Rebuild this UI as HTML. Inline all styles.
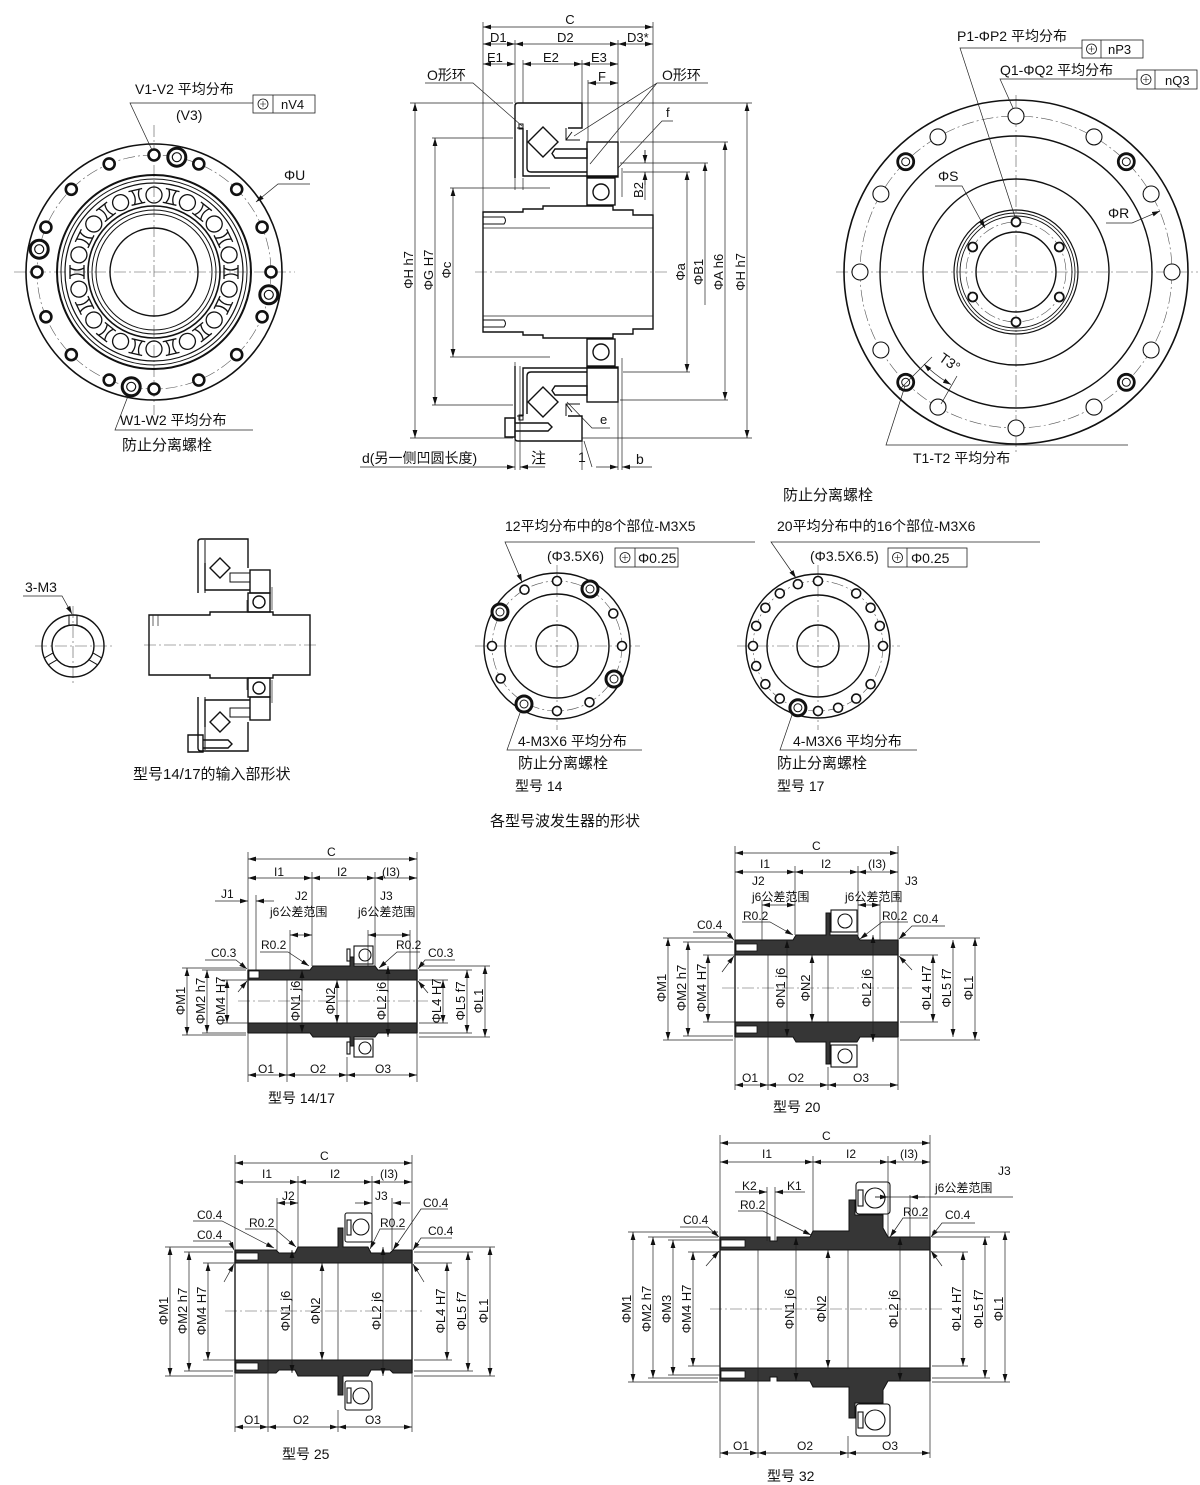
<!DOCTYPE html>
<html><head><meta charset="utf-8">
<style>
html,body{margin:0;padding:0;background:#fff}
svg{display:block}
.k{fill:none;stroke:#111;stroke-width:1.4}
.n{fill:none;stroke:#222;stroke-width:.7}
.cl{fill:none;stroke:#555;stroke-width:.6;stroke-dasharray:12 3 2 3}
.b{fill:#363636;stroke:#111;stroke-width:1}
.w{fill:#fff;stroke:#111;stroke-width:.8}
.d{marker-start:url(#ar);marker-end:url(#ar)}
.e{marker-end:url(#ar)}
.sa{marker-start:url(#ar)}
text{font-family:"Liberation Sans Narrow","Liberation Sans","Noto Sans CJK SC",sans-serif;fill:#111;font-size:13px}
.s12{font-size:12px}.s15{font-size:15px}.s14{font-size:14px}
</style></head><body>
<svg width="1200" height="1485" viewBox="0 0 1200 1485" xmlns="http://www.w3.org/2000/svg">
<defs>
<marker id="ar" viewBox="0 0 8 6" refX="8" refY="3" markerWidth="8" markerHeight="6" markerUnits="userSpaceOnUse" orient="auto-start-reverse"><path d="M0,0.6 L8,3 L0,5.4z" fill="#111"/></marker>
<circle id="rc" cx="154" cy="195" r="8"/>
<path id="ri" d="M147,188 H161 M147,202 H161 M150,188 Q154,195 150,202 M158,188 Q154,195 158,202"/>
<g id="pos"><circle cx="0" cy="0" r="5" fill="none" stroke="#111" stroke-width=".8"/><path d="M-3,0H3M0,-3V3" stroke="#111" stroke-width=".6"/></g>
</defs>

<!-- ================= TOP LEFT FRONT VIEW ================= -->
<line class="cl" x1="14" y1="272" x2="295" y2="272"/>
<line class="cl" x1="154" y1="125" x2="154" y2="415"/>
<circle class="k" cx="154" cy="272" r="128" style="stroke-width:1.6"/>
<circle class="cl" cx="154" cy="272" r="117"/>
<circle class="k" cx="154" cy="272" r="97" style="stroke-width:2"/>
<circle class="k" cx="154" cy="272" r="93" style="stroke-width:1"/>
<circle class="k" cx="154" cy="272" r="89" style="stroke-width:1.2"/>
<circle class="k" cx="154" cy="272" r="66" style="stroke-width:1.6"/>
<circle class="k" cx="154" cy="272" r="62" style="stroke-width:1"/>
<circle class="k" cx="154" cy="272" r="58" style="stroke-width:1"/>
<circle class="k" cx="154" cy="272" r="44"/>
<g fill="none" stroke="#111" stroke-width="1.3">
<use href="#rc"/><use href="#rc" transform="rotate(25.714 154 272)"/><use href="#rc" transform="rotate(51.429 154 272)"/><use href="#rc" transform="rotate(77.143 154 272)"/><use href="#rc" transform="rotate(102.857 154 272)"/><use href="#rc" transform="rotate(128.571 154 272)"/><use href="#rc" transform="rotate(154.286 154 272)"/><use href="#rc" transform="rotate(180 154 272)"/><use href="#rc" transform="rotate(205.714 154 272)"/><use href="#rc" transform="rotate(231.429 154 272)"/><use href="#rc" transform="rotate(257.143 154 272)"/><use href="#rc" transform="rotate(282.857 154 272)"/><use href="#rc" transform="rotate(308.571 154 272)"/><use href="#rc" transform="rotate(334.286 154 272)"/>
<use href="#ri" transform="rotate(12.857 154 272)"/><use href="#ri" transform="rotate(38.571 154 272)"/><use href="#ri" transform="rotate(64.286 154 272)"/><use href="#ri" transform="rotate(90 154 272)"/><use href="#ri" transform="rotate(115.714 154 272)"/><use href="#ri" transform="rotate(141.429 154 272)"/><use href="#ri" transform="rotate(167.143 154 272)"/><use href="#ri" transform="rotate(192.857 154 272)"/><use href="#ri" transform="rotate(218.571 154 272)"/><use href="#ri" transform="rotate(244.286 154 272)"/><use href="#ri" transform="rotate(270 154 272)"/><use href="#ri" transform="rotate(295.714 154 272)"/><use href="#ri" transform="rotate(321.429 154 272)"/><use href="#ri" transform="rotate(347.143 154 272)"/>
</g>
<g fill="#fff" stroke="#111" stroke-width="2.6">
<circle cx="271" cy="272" r="5.5"/><circle cx="262.1" cy="227.2" r="5.5"/><circle cx="236.7" cy="189.3" r="5.5"/><circle cx="198.8" cy="163.9" r="5.5"/><circle cx="154" cy="155" r="5.5"/><circle cx="109.2" cy="163.9" r="5.5"/><circle cx="71.3" cy="189.3" r="5.5"/><circle cx="45.9" cy="227.2" r="5.5"/><circle cx="37" cy="272" r="5.5"/><circle cx="45.9" cy="316.8" r="5.5"/><circle cx="71.3" cy="354.7" r="5.5"/><circle cx="109.2" cy="380.1" r="5.5"/><circle cx="154" cy="389" r="5.5"/><circle cx="198.8" cy="380.1" r="5.5"/><circle cx="236.7" cy="354.7" r="5.5"/><circle cx="262.1" cy="316.8" r="5.5"/>
</g>
<g fill="#fff" stroke="#111">
<circle cx="176.8" cy="157.2" r="9" stroke-width="3"/><circle cx="176.8" cy="157.2" r="4.5" stroke-width="1.2"/>
<circle cx="39.2" cy="249.2" r="9" stroke-width="3"/><circle cx="39.2" cy="249.2" r="4.5" stroke-width="1.2"/>
<circle cx="131.2" cy="386.8" r="9" stroke-width="3"/><circle cx="131.2" cy="386.8" r="4.5" stroke-width="1.2"/>
<circle cx="268.8" cy="294.8" r="9" stroke-width="3"/><circle cx="268.8" cy="294.8" r="4.5" stroke-width="1.2"/>
</g>
<text x="135" y="94" class="s14">V1-V2 平均分布</text>
<text x="176" y="120" class="s14">(V3)</text>
<path class="n" d="M253,103 H130 L152,150"/>
<rect x="253" y="95" width="62" height="18" fill="none" stroke="#222" stroke-width=".8"/>
<line x1="273" y1="95" x2="273" y2="113" stroke="#222" stroke-width=".8"/>
<use href="#pos" x="263" y="104"/>
<text x="281" y="109">nV4</text>
<text x="284" y="180" class="s14">ΦU</text>
<path class="n e" d="M310,184 H278 L256,202"/>
<text x="120" y="425" class="s14">W1-W2 平均分布</text>
<path class="n" d="M253,430 H115 L128,396"/>
<text x="122" y="450" class="s15">防止分离螺栓</text>

<!-- ================= TOP MIDDLE SECTION ================= -->
<line class="cl" x1="475" y1="272" x2="668" y2="272"/>
<!-- shaft -->
<path class="k" d="M483,212 H523 V209 H543 V206 H613 V210 H633 V215 H653 V329 H633 V334 H613 V338 H543 V335 H523 V332 H483 Z"/>
<line class="n" x1="483" y1="228" x2="653" y2="228"/>
<line class="n" x1="483" y1="316" x2="653" y2="316"/>
<path class="k" style="stroke-width:1" d="M483,217 H504 Q507,220.5 504,224 H483 M483,320 H504 Q507,323.5 504,327 H483"/>
<!-- upper housing -->
<g id="hsg">
<path class="k" d="M515,178 V106 Q515,103 518,103 H582 V128 H568"/>
<path class="k" d="M523,128 V176 H618"/>
<path class="k" d="M527,130 V168 Q527,172 531,172 H587"/>
<path class="k" d="M543,127 L558,142 L543,157 L528,142Z"/>
<rect class="k" x="587" y="142" width="31" height="35"/>
<path class="k" d="M555,149 H587 V158 H555 L552,153.5 Z"/>
<rect class="k" x="587" y="178" width="28" height="27"/>
<circle class="k" cx="601" cy="192" r="8"/>
<path class="k" style="stroke-width:1" d="M566,128 V140 H580 M566,140 L572,132"/>
<path class="k" style="stroke-width:1" d="M517,128 H523 M519,124 h4 v5 h-4z"/>
</g>
<use href="#hsg" transform="matrix(1 0 0 -1 0 544)"/>
<path class="k" d="M505,418 H515 V437 H505 Z M515,423 H548 L552,427 L548,431 H515"/>
<!-- extension lines -->
<path class="n" d="M483,22 V212 M653,22 V215 M515,40 V103 M515,178 V190 M515,362 V470 M523,60 V103 M523,178 V190 M520,366 V470 M582,60 V103 M588,80 V142 M618,40 V142 M618,400 V470 M622,168 V197 M622,358 V470 M582,440 V470
M410,103 H513 M432,138 H513 M450,188 H550 M450,357 H550 M432,405 H513 M410,438 H513
M582,103 H752 M620,142 H728 M620,163 H708 M623,172 H690 M623,372 H690 M620,400 H728 M582,438 H752"/>
<!-- dims -->
<g class="n d">
<line x1="483" y1="27" x2="653" y2="27"/>
<line x1="483" y1="44" x2="515" y2="44"/><line x1="515" y1="44" x2="618" y2="44"/><line x1="618" y1="44" x2="653" y2="44"/>
<line x1="483" y1="64" x2="515" y2="64"/><line x1="523" y1="64" x2="582" y2="64"/><line x1="582" y1="64" x2="618" y2="64"/>
<line x1="588" y1="83" x2="618" y2="83"/>
<line x1="415" y1="103" x2="415" y2="438"/><line x1="435" y1="138" x2="435" y2="405"/><line x1="453" y1="188" x2="453" y2="357"/>
<line x1="687" y1="172" x2="687" y2="372"/><line x1="725" y1="142" x2="725" y2="400"/><line x1="747" y1="103" x2="747" y2="438"/>
</g>
<line class="n sa" x1="705" y1="163" x2="705" y2="305"/>
<path class="n" d="M645,150 V163 M645,172 V200"/>
<line class="n e" x1="645" y1="150" x2="645" y2="163"/><line class="n e" x1="645" y1="185" x2="645" y2="172"/>
<text x="570" y="24" text-anchor="middle">C</text>
<text x="490" y="42">D1</text><text x="557" y="42">D2</text><text x="627" y="42">D3*</text>
<text x="487" y="62">E1</text><text x="543" y="62">E2</text><text x="591" y="62">E3</text>
<text x="598" y="81">F</text>
<text x="427" y="80" class="s14">O形环</text>
<path class="n" d="M425,83 H473 L522,126"/>
<text x="662" y="80" class="s14">O形环</text>
<path class="n" d="M708,83 H657 L590,164 M657,83 L574,136"/>
<text x="666" y="117">f</text>
<path class="n" d="M673,121 H662 L618,168"/>
<text x="600" y="424">e</text>
<path class="n" d="M610,428 H592 L567,402"/>
<text transform="translate(413,270) rotate(-90)" text-anchor="middle">ΦH h7</text>
<text transform="translate(433,270) rotate(-90)" text-anchor="middle">ΦG H7</text>
<text transform="translate(451,270) rotate(-90)" text-anchor="middle">Φc</text>
<text transform="translate(685,272) rotate(-90)" text-anchor="middle">Φa</text>
<text transform="translate(703,272) rotate(-90)" text-anchor="middle">ΦB1</text>
<text transform="translate(723,272) rotate(-90)" text-anchor="middle">ΦA h6</text>
<text transform="translate(745,272) rotate(-90)" text-anchor="middle">ΦH h7</text>
<text transform="translate(643,190) rotate(-90)" text-anchor="middle">B2</text>
<text x="362" y="463" class="s14">d(另一侧凹圆长度)</text>
<line class="n e" x1="360" y1="467" x2="515" y2="467"/>
<line class="n e" x1="545" y1="467" x2="520" y2="467"/>
<text x="531" y="463" class="s15">注</text>
<text x="578" y="462" class="s14">1</text>
<path class="n" d="M592,467 L584,441"/>
<line class="n e" x1="596" y1="467" x2="618" y2="467"/>
<line class="n e" x1="652" y1="467" x2="622" y2="467"/>
<text x="636" y="464" class="s14">b</text>

<!-- ================= TOP RIGHT FRONT VIEW ================= -->
<line class="cl" x1="836" y1="272" x2="1198" y2="272"/>
<line class="cl" x1="1016" y1="95" x2="1016" y2="455"/>
<circle class="k" cx="1016" cy="272" r="172" style="stroke-width:1.6"/>
<circle class="cl" cx="1016" cy="272" r="156"/>
<circle class="k" cx="1016" cy="272" r="136"/>
<circle class="k" cx="1016" cy="272" r="93"/>
<circle class="k" cx="1016" cy="272" r="62" style="stroke-width:1.2"/>
<circle class="k" cx="1016" cy="272" r="59" style="stroke-width:.9"/>
<circle class="k" cx="1016" cy="272" r="56" style="stroke-width:.9"/>
<circle class="cl" cx="1016" cy="272" r="50"/>
<circle class="k" cx="1016" cy="272" r="40"/>
<g fill="#fff" stroke="#111" stroke-width="1.8">
<circle cx="1016" cy="222" r="4.5"/><circle cx="1059.3" cy="247" r="4.5"/><circle cx="1059.3" cy="297" r="4.5"/><circle cx="1016" cy="322" r="4.5"/><circle cx="972.7" cy="297" r="4.5"/><circle cx="972.7" cy="247" r="4.5"/>
</g>
<g fill="#fff" stroke="#111" stroke-width="1.1">
<circle cx="1172" cy="272" r="8"/><circle cx="1151.1" cy="194" r="8"/><circle cx="1094" cy="136.9" r="8"/><circle cx="1016" cy="116" r="8"/><circle cx="938" cy="136.9" r="8"/><circle cx="880.9" cy="194" r="8"/><circle cx="860" cy="272" r="8"/><circle cx="880.9" cy="350" r="8"/><circle cx="938" cy="407.1" r="8"/><circle cx="1016" cy="428" r="8"/><circle cx="1094" cy="407.1" r="8"/><circle cx="1151.1" cy="350" r="8"/>
</g>
<g fill="#fff" stroke="#111">
<circle cx="1126.3" cy="161.7" r="8" stroke-width="2.8"/><circle cx="1126.3" cy="161.7" r="4" stroke-width="1"/>
<circle cx="905.7" cy="161.7" r="8" stroke-width="2.8"/><circle cx="905.7" cy="161.7" r="4" stroke-width="1"/>
<circle cx="905.7" cy="382.3" r="8" stroke-width="2.8"/><circle cx="905.7" cy="382.3" r="4" stroke-width="1"/>
<circle cx="1126.3" cy="382.3" r="8" stroke-width="2.8"/><circle cx="1126.3" cy="382.3" r="4" stroke-width="1"/>
</g>
<text x="957" y="41" class="s14">P1-ΦP2 平均分布</text>
<path class="n" d="M1082,48 H960 L1015,217"/>
<rect x="1082" y="40" width="61" height="18" fill="none" stroke="#222" stroke-width=".8"/>
<line x1="1101" y1="40" x2="1101" y2="58" stroke="#222" stroke-width=".8"/>
<use href="#pos" x="1091.5" y="49"/>
<text x="1108" y="54">nP3</text>
<text x="1000" y="75" class="s14">Q1-ΦQ2 平均分布</text>
<path class="n" d="M1137,79 H1000 L1013,108"/>
<rect x="1137" y="70" width="60" height="19" fill="none" stroke="#222" stroke-width=".8"/>
<line x1="1155" y1="70" x2="1155" y2="89" stroke="#222" stroke-width=".8"/>
<use href="#pos" x="1146" y="79.5"/>
<text x="1165" y="85">nQ3</text>
<text x="938" y="181" class="s14">ΦS</text>
<path class="n e" d="M935,186 H962 L985,228"/>
<text x="1108" y="218" class="s14">ΦR</text>
<path class="n e" d="M1106,223 H1132 L1160,211"/>
<path class="n" d="M932,357 L899,390 M957,376 L941,404"/>
<path class="n d" d="M924,364 A130,130 0 0 0 951,384.6"/>
<text transform="translate(938,360) rotate(35)" class="s14">T3°</text>
<text x="913" y="463" class="s14">T1-T2 平均分布</text>
<path class="n" d="M1128,445 H886 L905,386"/>

<!-- ================= MIDDLE LEFT ================= -->
<line class="cl" x1="35" y1="646" x2="112" y2="646"/>
<line class="cl" x1="73" y1="606" x2="73" y2="684"/>
<circle class="k" cx="73" cy="646" r="31"/>
<circle class="k" cx="73" cy="646" r="21"/>
<g class="k" style="stroke-width:1">
<path d="M69,615 V625 M77,615 V625"/>
<path d="M69,615 V625 M77,615 V625" transform="rotate(120 73 646)"/>
<path d="M69,615 V625 M77,615 V625" transform="rotate(240 73 646)"/>
</g>
<text x="25" y="592" class="s14">3-M3</text>
<path class="n e" d="M23,596 H62 L72,614"/>
<line class="cl" x1="144" y1="645" x2="316" y2="645"/>
<path class="k" d="M149,615 H210 V612 H273 V615 H310 V675 H273 V678 H210 V675 H149 Z"/>
<path class="n" d="M153,615 V626 M158,615 V626 M247,600 V612 M247,678 V690"/>
<g id="ia">
<path class="k" d="M198,593 V542 Q198,539 201,539 H248 V568"/>
<path class="k" style="stroke-width:1" d="M205,540 V593"/>
<path class="k" d="M205,563 V590 H250"/>
<path class="k" d="M220,558 L230,568 L220,578 L210,568Z"/>
<rect class="k" x="250" y="570" width="20" height="23"/>
<rect class="k" style="stroke-width:1" x="230" y="573" width="20" height="9"/>
<rect class="k" x="248" y="593" width="22" height="19"/>
<circle class="k" cx="259" cy="602" r="6"/>
<path class="n" d="M272,587 V610"/>
</g>
<use href="#ia" transform="matrix(1 0 0 -1 0 1290)"/>
<path class="k" d="M188,735 H203 V752 H188 Z M203,740 H228 L232,744 L228,748 H203"/>
<text x="133" y="779" class="s15">型号14/17的输入部形状</text>

<!-- ================= MIDDLE CIRCLES ================= -->
<text x="783" y="500" class="s15">防止分离螺栓</text>
<text x="505" y="531" class="s14">12平均分布中的8个部位-M3X5</text>
<path class="n e" d="M755,542 H505 L522,582"/>
<text x="547" y="561" class="s14">(Φ3.5X6)</text>
<rect x="615" y="548" width="63" height="19" fill="none" stroke="#222" stroke-width=".8"/>
<line x1="635" y1="548" x2="635" y2="567" stroke="#222" stroke-width=".8"/>
<use href="#pos" x="625" y="557.5"/>
<text x="638" y="563" class="s14">Φ0.25</text>
<line class="cl" x1="475" y1="646" x2="640" y2="646"/>
<line class="cl" x1="557" y1="565" x2="557" y2="730"/>
<circle class="k" cx="557" cy="646" r="73"/>
<circle class="cl" cx="557" cy="646" r="65"/>
<circle class="k" cx="557" cy="646" r="52"/>
<circle class="k" cx="557" cy="646" r="21"/>
<g fill="#fff" stroke="#111" stroke-width="1.6">
<circle cx="622" cy="646" r="4.5"/><circle cx="613.3" cy="613.5" r="4.5"/><circle cx="557" cy="581" r="4.5"/><circle cx="524.5" cy="589.7" r="4.5"/><circle cx="492" cy="646" r="4.5"/><circle cx="500.7" cy="678.5" r="4.5"/><circle cx="557" cy="711" r="4.5"/><circle cx="589.5" cy="702.3" r="4.5"/>
</g>
<g fill="#fff" stroke="#111">
<circle cx="590" cy="589" r="8" stroke-width="3"/><circle cx="590" cy="589" r="4" stroke-width="1"/>
<circle cx="500" cy="612" r="8" stroke-width="3"/><circle cx="500" cy="612" r="4" stroke-width="1"/>
<circle cx="524" cy="704" r="8" stroke-width="3"/><circle cx="524" cy="704" r="4" stroke-width="1"/>
<circle cx="614" cy="679" r="8" stroke-width="3"/><circle cx="614" cy="679" r="4" stroke-width="1"/>
</g>
<text x="518" y="746" class="s14">4-M3X6 平均分布</text>
<path class="n" d="M642,750 H507 L520,713"/>
<text x="518" y="768" class="s15">防止分离螺栓</text>
<text x="515" y="791" class="s14">型号 14</text>

<text x="777" y="531" class="s14">20平均分布中的16个部位-M3X6</text>
<path class="n e" d="M1040,542 H771 L796,578"/>
<text x="810" y="561" class="s14">(Φ3.5X6.5)</text>
<rect x="888" y="548" width="79" height="19" fill="none" stroke="#222" stroke-width=".8"/>
<line x1="907" y1="548" x2="907" y2="567" stroke="#222" stroke-width=".8"/>
<use href="#pos" x="897.5" y="557.5"/>
<text x="911" y="563" class="s14">Φ0.25</text>
<line class="cl" x1="737" y1="646" x2="900" y2="646"/>
<line class="cl" x1="818" y1="565" x2="818" y2="730"/>
<circle class="k" cx="818" cy="646" r="72"/>
<circle class="cl" cx="818" cy="646" r="65"/>
<circle class="k" cx="818" cy="646" r="51"/>
<circle class="k" cx="818" cy="646" r="21"/>
<g fill="#fff" stroke="#111" stroke-width="1.6">
<circle cx="883" cy="646" r="4.5"/><circle cx="879.8" cy="625.9" r="4.5"/><circle cx="870.6" cy="607.8" r="4.5"/><circle cx="856.2" cy="593.4" r="4.5"/><circle cx="818" cy="581" r="4.5"/><circle cx="797.9" cy="584.2" r="4.5"/><circle cx="779.8" cy="593.4" r="4.5"/><circle cx="765.4" cy="607.8" r="4.5"/><circle cx="756.2" cy="625.9" r="4.5"/><circle cx="753" cy="646" r="4.5"/><circle cx="756.2" cy="666.1" r="4.5"/><circle cx="765.4" cy="684.2" r="4.5"/><circle cx="779.8" cy="698.6" r="4.5"/><circle cx="818" cy="711" r="4.5"/><circle cx="838.1" cy="707.8" r="4.5"/><circle cx="856.2" cy="698.6" r="4.5"/><circle cx="870.6" cy="684.2" r="4.5"/>
</g>
<g fill="#fff" stroke="#111"><circle cx="797.9" cy="707.8" r="8" stroke-width="3"/><circle cx="797.9" cy="707.8" r="4" stroke-width="1"/></g>
<text x="793" y="746" class="s14">4-M3X6 平均分布</text>
<path class="n" d="M917,750 H780 L792,715"/>
<text x="777" y="768" class="s15">防止分离螺栓</text>
<text x="777" y="791" class="s14">型号 17</text>
<text x="490" y="826" class="s15">各型号波发生器的形状</text>

<!-- ================= MODEL 14/17 ================= -->
<line class="cl" x1="238" y1="1001" x2="428" y2="1001"/>
<path class="b" d="M248,970 H310 L313,966 H350 V957 H354 V966 H375 L378,970 H417 V980 H248 Z"/>
<path class="b" d="M248,1033 H310 L313,1037 H350 V1046 H354 V1037 H375 L378,1033 H417 V1023 H248 Z"/>
<rect class="w" x="249" y="971" width="10" height="7"/>
<path class="k" d="M248,970 V1033 M417,970 V1033"/>
<path class="n" d="M287,980 V1023 M347,980 V1023"/>
<g class="k" style="stroke-width:1.1" fill="#fff"><rect x="354" y="946" width="19" height="18" fill="#fff"/><circle cx="365" cy="955" r="6"/><rect x="347" y="949" width="3" height="12"/></g>
<g class="k" style="stroke-width:1.1"><rect x="354" y="1039" width="19" height="18" fill="#fff"/><circle cx="365" cy="1048" r="6"/><rect x="347" y="1042" width="3" height="12"/></g>
<path class="n" d="M248,852 V1082 M417,852 V1082 M312,872 V966 M375,872 V966 M256,895 V970 M290,930 V970 M368,930 V966 M410,930 V970 M287,1023 V1082 M347,1057 V1082
M182,968 H246 M182,1035 H246 M202,970 H246 M202,1033 H246 M222,980 H248 M222,1023 H248
M419,966 H490 M419,1037 H490 M419,970 H472 M419,1033 H472 M419,980 H448 M419,1023 H448"/>
<g class="n d">
<line x1="248" y1="859" x2="417" y2="859"/>
<line x1="248" y1="878" x2="312" y2="878"/><line x1="312" y1="878" x2="375" y2="878"/><line x1="375" y1="878" x2="417" y2="878"/>
<line x1="290" y1="935" x2="312" y2="935"/><line x1="368" y1="935" x2="410" y2="935"/>
<line x1="187" y1="968" x2="187" y2="1035"/><line x1="207" y1="970" x2="207" y2="1033"/><line x1="227" y1="980" x2="227" y2="1023"/>
<line x1="302" y1="970" x2="302" y2="1033"/><line x1="337" y1="980" x2="337" y2="1023"/><line x1="388" y1="966" x2="388" y2="1037"/>
<line x1="443" y1="980" x2="443" y2="1023"/><line x1="467" y1="970" x2="467" y2="1033"/><line x1="485" y1="966" x2="485" y2="1037"/>
<line x1="248" y1="1075" x2="287" y2="1075"/><line x1="287" y1="1075" x2="347" y2="1075"/><line x1="347" y1="1075" x2="417" y2="1075"/>
</g>
<line class="n e" x1="215" y1="901" x2="248" y2="901"/><line class="n e" x1="274" y1="901" x2="256" y2="901"/>
<path class="n e" d="M205,960 H236 L247,969"/><path class="n e" d="M238,992 L247,981"/>
<path class="n e" d="M260,952 H288 L309,966"/><path class="n e" d="M420,952 H397 L379,968"/>
<path class="n e" d="M455,960 H425 L418,969"/><path class="n e" d="M428,993 L418,981"/>
<text x="327" y="856" class="s12">C</text>
<text x="274" y="876" class="s12">I1</text><text x="337" y="876" class="s12">I2</text><text x="382" y="876" class="s12">(I3)</text>
<text x="221" y="898" class="s12">J1</text>
<text x="295" y="900" class="s12">J2</text><text x="270" y="916" class="s12">j6公差范围</text>
<text x="380" y="900" class="s12">J3</text><text x="358" y="916" class="s12">j6公差范围</text>
<text x="261" y="949" class="s12">R0.2</text><text x="396" y="949" class="s12">R0.2</text>
<text x="211" y="957" class="s12">C0.3</text><text x="428" y="957" class="s12">C0.3</text>
<g class="s12">
<text transform="translate(185,1001) rotate(-90)" text-anchor="middle">ΦM1</text>
<text transform="translate(205,1001) rotate(-90)" text-anchor="middle">ΦM2 h7</text>
<text transform="translate(225,1001) rotate(-90)" text-anchor="middle">ΦM4 H7</text>
<text transform="translate(300,1001) rotate(-90)" text-anchor="middle">ΦN1 j6</text>
<text transform="translate(335,1001) rotate(-90)" text-anchor="middle">ΦN2</text>
<text transform="translate(386,1001) rotate(-90)" text-anchor="middle">ΦL2 j6</text>
<text transform="translate(441,1001) rotate(-90)" text-anchor="middle">ΦL4 H7</text>
<text transform="translate(465,1001) rotate(-90)" text-anchor="middle">ΦL5 f7</text>
<text transform="translate(483,1001) rotate(-90)" text-anchor="middle">ΦL1</text>
</g>
<text x="258" y="1073" class="s12">O1</text><text x="310" y="1073" class="s12">O2</text><text x="375" y="1073" class="s12">O3</text>
<text x="268" y="1103" class="s14">型号 14/17</text>

<!-- ================= MODEL 20 ================= -->
<line class="cl" x1="722" y1="988" x2="912" y2="988"/>
<path class="b" d="M735,940 H793 L796,935 H826 V913 H830 V935 H857 L860,940 H898 V955 H735 Z"/>
<path class="b" d="M735,1037 H793 L796,1042 H826 V1064 H830 V1042 H857 L860,1037 H898 V1022 H735 Z"/>
<rect class="w" x="736" y="944" width="21" height="7"/><rect class="w" x="736" y="1026" width="21" height="7"/>
<path class="k" d="M735,940 V1037 M898,940 V1037"/>
<path class="n" d="M768,955 V1022 M828,955 V1022"/>
<g class="k" style="stroke-width:1.1"><rect x="831" y="910" width="26" height="22" fill="#fff"/><circle cx="845" cy="921" r="7"/></g>
<g class="k" style="stroke-width:1.1"><rect x="831" y="1045" width="26" height="22" fill="#fff"/><circle cx="845" cy="1056" r="7"/></g>
<path class="n" d="M735,846 V1090 M898,846 V1090 M795,866 V935 M858,866 V940 M762,900 V940 M880,900 V940 M768,1022 V1090 M828,1067 V1090
M663,938 H733 M663,1040 H733 M683,942 H733 M683,1036 H733 M703,955 H735 M703,1022 H735
M900,938 H980 M900,1040 H980 M900,955 H938 M900,1022 H938"/>
<g class="n d">
<line x1="735" y1="853" x2="898" y2="853"/>
<line x1="735" y1="872" x2="795" y2="872"/><line x1="795" y1="872" x2="858" y2="872"/><line x1="858" y1="872" x2="898" y2="872"/>
<line x1="762" y1="905" x2="795" y2="905"/><line x1="858" y1="905" x2="880" y2="905"/>
<line x1="668" y1="938" x2="668" y2="1040"/><line x1="688" y1="942" x2="688" y2="1036"/><line x1="708" y1="955" x2="708" y2="1022"/>
<line x1="787" y1="940" x2="787" y2="1037"/><line x1="812" y1="955" x2="812" y2="1022"/><line x1="873" y1="935" x2="873" y2="1042"/>
<line x1="933" y1="955" x2="933" y2="1022"/><line x1="953" y1="940" x2="953" y2="1037"/><line x1="975" y1="938" x2="975" y2="1040"/>
<line x1="735" y1="1085" x2="768" y2="1085"/><line x1="768" y1="1085" x2="828" y2="1085"/><line x1="828" y1="1085" x2="898" y2="1085"/>
</g>
<path class="n e" d="M742,922 H770 L793,935"/><path class="n e" d="M908,922 H882 L860,939"/>
<path class="n e" d="M693,932 H726 L734,940"/><path class="n e" d="M722,972 L734,956"/>
<path class="n e" d="M945,926 H912 L899,939"/><path class="n e" d="M912,970 L899,956"/>
<text x="812" y="850" class="s12">C</text>
<text x="760" y="868" class="s12">I1</text><text x="821" y="868" class="s12">I2</text><text x="868" y="868" class="s12">(I3)</text>
<text x="752" y="885" class="s12">J2</text><text x="905" y="885" class="s12">J3</text>
<text x="752" y="901" class="s12">j6公差范围</text><text x="845" y="901" class="s12">j6公差范围</text>
<text x="743" y="920" class="s12">R0.2</text><text x="882" y="920" class="s12">R0.2</text>
<text x="697" y="929" class="s12">C0.4</text><text x="913" y="923" class="s12">C0.4</text>
<g class="s12">
<text transform="translate(666,988) rotate(-90)" text-anchor="middle">ΦM1</text>
<text transform="translate(686,988) rotate(-90)" text-anchor="middle">ΦM2 h7</text>
<text transform="translate(706,988) rotate(-90)" text-anchor="middle">ΦM4 H7</text>
<text transform="translate(785,988) rotate(-90)" text-anchor="middle">ΦN1 j6</text>
<text transform="translate(810,988) rotate(-90)" text-anchor="middle">ΦN2</text>
<text transform="translate(871,988) rotate(-90)" text-anchor="middle">ΦL2 j6</text>
<text transform="translate(931,988) rotate(-90)" text-anchor="middle">ΦL4 H7</text>
<text transform="translate(951,988) rotate(-90)" text-anchor="middle">ΦL5 f7</text>
<text transform="translate(973,988) rotate(-90)" text-anchor="middle">ΦL1</text>
</g>
<text x="742" y="1082" class="s12">O1</text><text x="788" y="1082" class="s12">O2</text><text x="853" y="1082" class="s12">O3</text>
<text x="773" y="1112" class="s14">型号 20</text>

<!-- ================= MODEL 25 ================= -->
<line class="cl" x1="225" y1="1311" x2="425" y2="1311"/>
<path class="b" d="M235,1250 H276 L279,1253 H295 L298,1247 H338 V1228 H343 V1247 H368 L371,1253 H390 L393,1250 H412 V1263 H235 Z"/>
<path class="b" d="M235,1373 H276 L279,1370 H295 L298,1376 H338 V1395 H343 V1376 H368 L371,1370 H390 L393,1373 H412 V1360 H235 Z"/>
<rect class="w" x="236" y="1253" width="22" height="7"/><rect class="w" x="236" y="1363" width="22" height="7"/>
<path class="k" d="M235,1250 V1373 M412,1250 V1373"/>
<path class="n" d="M268,1263 V1360 M338,1263 V1360"/>
<g class="k" style="stroke-width:1.1"><rect x="345" y="1213" width="27" height="29" rx="2" fill="#fff"/><circle cx="361" cy="1227" r="8"/><rect x="347" y="1220" width="4" height="15"/></g>
<g class="k" style="stroke-width:1.1"><rect x="345" y="1381" width="27" height="29" rx="2" fill="#fff"/><circle cx="361" cy="1396" r="8"/><rect x="347" y="1388" width="4" height="15"/></g>
<path class="n" d="M235,1155 V1432 M412,1155 V1432 M298,1176 V1247 M372,1176 V1247 M277,1198 V1251 M392,1198 V1250 M268,1360 V1432 M338,1410 V1432
M165,1247 H233 M165,1376 H233 M184,1252 H233 M184,1371 H233 M203,1263 H235 M203,1360 H235
M414,1247 H495 M414,1376 H495 M414,1252 H473 M414,1371 H473 M414,1263 H452 M414,1360 H452"/>
<g class="n d">
<line x1="235" y1="1163" x2="412" y2="1163"/>
<line x1="235" y1="1182" x2="298" y2="1182"/><line x1="298" y1="1182" x2="372" y2="1182"/><line x1="372" y1="1182" x2="412" y2="1182"/>
<line x1="277" y1="1203" x2="298" y2="1203"/>
<line x1="170" y1="1247" x2="170" y2="1376"/><line x1="189" y1="1252" x2="189" y2="1371"/><line x1="208" y1="1263" x2="208" y2="1360"/>
<line x1="292" y1="1250" x2="292" y2="1373"/><line x1="322" y1="1263" x2="322" y2="1360"/><line x1="383" y1="1247" x2="383" y2="1376"/>
<line x1="447" y1="1263" x2="447" y2="1360"/><line x1="468" y1="1252" x2="468" y2="1371"/><line x1="490" y1="1247" x2="490" y2="1376"/>
<line x1="235" y1="1427" x2="268" y2="1427"/><line x1="268" y1="1427" x2="338" y2="1427"/><line x1="338" y1="1427" x2="412" y2="1427"/>
</g>
<line class="n e" x1="355" y1="1203" x2="372" y2="1203"/><line class="n e" x1="410" y1="1203" x2="393" y2="1203"/>
<path class="n e" d="M193,1221 H222 L274,1248"/>
<path class="n e" d="M193,1241 H230 L234,1250"/><path class="n e" d="M224,1282 L234,1264"/>
<path class="n e" d="M245,1229 H275 L296,1247"/><path class="n e" d="M405,1229 H380 L370,1249"/>
<path class="n e" d="M448,1209 H421 L393,1250"/><path class="n e" d="M452,1238 H421 L413,1250"/><path class="n e" d="M424,1282 L413,1264"/>
<text x="320" y="1160" class="s12">C</text>
<text x="262" y="1178" class="s12">I1</text><text x="330" y="1178" class="s12">I2</text><text x="380" y="1178" class="s12">(I3)</text>
<text x="282" y="1200" class="s12">J2</text><text x="375" y="1200" class="s12">J3</text>
<text x="197" y="1219" class="s12">C0.4</text><text x="197" y="1239" class="s12">C0.4</text>
<text x="249" y="1227" class="s12">R0.2</text><text x="380" y="1227" class="s12">R0.2</text>
<text x="423" y="1207" class="s12">C0.4</text><text x="428" y="1235" class="s12">C0.4</text>
<g class="s12">
<text transform="translate(168,1311) rotate(-90)" text-anchor="middle">ΦM1</text>
<text transform="translate(187,1311) rotate(-90)" text-anchor="middle">ΦM2 h7</text>
<text transform="translate(206,1311) rotate(-90)" text-anchor="middle">ΦM4 H7</text>
<text transform="translate(290,1311) rotate(-90)" text-anchor="middle">ΦN1 j6</text>
<text transform="translate(320,1311) rotate(-90)" text-anchor="middle">ΦN2</text>
<text transform="translate(381,1311) rotate(-90)" text-anchor="middle">ΦL2 j6</text>
<text transform="translate(445,1311) rotate(-90)" text-anchor="middle">ΦL4 H7</text>
<text transform="translate(466,1311) rotate(-90)" text-anchor="middle">ΦL5 f7</text>
<text transform="translate(488,1311) rotate(-90)" text-anchor="middle">ΦL1</text>
</g>
<text x="244" y="1424" class="s12">O1</text><text x="293" y="1424" class="s12">O2</text><text x="365" y="1424" class="s12">O3</text>
<text x="282" y="1459" class="s14">型号 25</text>

<!-- ================= MODEL 32 ================= -->
<line class="cl" x1="710" y1="1309" x2="945" y2="1309"/>
<path class="b" d="M720,1237 H770 V1241 H777 V1237 H810 L813,1231 H849 V1200 H855 V1215 H883 V1228 L888,1237 H930 V1250 H720 Z"/>
<path class="b" d="M720,1381 H770 V1377 H777 V1381 H810 L813,1387 H849 V1418 H855 V1403 H883 V1390 L888,1381 H930 V1368 H720 Z"/>
<rect class="w" x="721" y="1240" width="24" height="7"/><rect class="w" x="721" y="1371" width="24" height="7"/>
<path class="k" d="M720,1237 V1381 M930,1237 V1381"/>
<path class="n" d="M758,1250 V1368 M848,1250 V1368"/>
<g class="k" style="stroke-width:1.1"><rect x="856" y="1182" width="34" height="32" rx="3" fill="#fff"/><circle cx="875" cy="1198" r="10"/><rect x="858" y="1190" width="5" height="16"/></g>
<g class="k" style="stroke-width:1.1"><rect x="856" y="1404" width="34" height="32" rx="3" fill="#fff"/><circle cx="875" cy="1420" r="10"/><rect x="858" y="1412" width="5" height="16"/></g>
<path class="n" d="M720,1135 V1458 M930,1135 V1458 M813,1156 V1231 M888,1156 V1237 M767,1187 V1241 M775,1187 V1241 M910,1195 V1237 M758,1368 V1458 M848,1436 V1458
M628,1232 H718 M628,1382 H718 M648,1237 H718 M648,1378 H718 M668,1240 H720 M668,1375 H720 M688,1252 H720 M688,1366 H720
M932,1232 H1010 M932,1382 H1010 M932,1237 H990 M932,1378 H990 M932,1252 H968 M932,1366 H968 M1013,1197 H875"/>
<g class="n d">
<line x1="720" y1="1143" x2="930" y2="1143"/>
<line x1="720" y1="1162" x2="813" y2="1162"/><line x1="813" y1="1162" x2="888" y2="1162"/><line x1="888" y1="1162" x2="930" y2="1162"/>
<line x1="633" y1="1232" x2="633" y2="1382"/><line x1="653" y1="1237" x2="653" y2="1378"/><line x1="673" y1="1240" x2="673" y2="1375"/><line x1="693" y1="1252" x2="693" y2="1366"/>
<line x1="796" y1="1237" x2="796" y2="1381"/><line x1="828" y1="1250" x2="828" y2="1368"/><line x1="900" y1="1237" x2="900" y2="1381"/>
<line x1="963" y1="1252" x2="963" y2="1366"/><line x1="985" y1="1237" x2="985" y2="1378"/><line x1="1005" y1="1232" x2="1005" y2="1382"/>
<line x1="720" y1="1453" x2="758" y2="1453"/><line x1="758" y1="1453" x2="848" y2="1453"/><line x1="848" y1="1453" x2="930" y2="1453"/>
</g>
<line class="n e" x1="735" y1="1192" x2="767" y2="1192"/><line class="n e" x1="805" y1="1192" x2="775" y2="1192"/>
<line class="n e" x1="925" y1="1197" x2="910" y2="1197"/><line class="n e" x1="875" y1="1197" x2="888" y2="1197"/>
<path class="n e" d="M738,1211 H763 L811,1235"/><path class="n e" d="M928,1218 H903 L890,1237"/>
<path class="n e" d="M680,1227 H708 L719,1237"/><path class="n e" d="M706,1266 L719,1251"/>
<path class="n e" d="M975,1223 H942 L931,1237"/><path class="n e" d="M942,1266 L931,1251"/>
<text x="822" y="1140" class="s12">C</text>
<text x="762" y="1158" class="s12">I1</text><text x="846" y="1158" class="s12">I2</text><text x="900" y="1158" class="s12">(I3)</text>
<text x="742" y="1190" class="s12">K2</text><text x="787" y="1190" class="s12">K1</text>
<text x="998" y="1175" class="s12">J3</text><text x="935" y="1192" class="s12">j6公差范围</text>
<text x="740" y="1209" class="s12">R0.2</text><text x="903" y="1216" class="s12">R0.2</text>
<text x="683" y="1224" class="s12">C0.4</text><text x="945" y="1219" class="s12">C0.4</text>
<g class="s12">
<text transform="translate(631,1309) rotate(-90)" text-anchor="middle">ΦM1</text>
<text transform="translate(651,1309) rotate(-90)" text-anchor="middle">ΦM2 h7</text>
<text transform="translate(671,1309) rotate(-90)" text-anchor="middle">ΦM3</text>
<text transform="translate(691,1309) rotate(-90)" text-anchor="middle">ΦM4 H7</text>
<text transform="translate(794,1309) rotate(-90)" text-anchor="middle">ΦN1 j6</text>
<text transform="translate(826,1309) rotate(-90)" text-anchor="middle">ΦN2</text>
<text transform="translate(898,1309) rotate(-90)" text-anchor="middle">ΦL2 j6</text>
<text transform="translate(961,1309) rotate(-90)" text-anchor="middle">ΦL4 H7</text>
<text transform="translate(983,1309) rotate(-90)" text-anchor="middle">ΦL5 f7</text>
<text transform="translate(1003,1309) rotate(-90)" text-anchor="middle">ΦL1</text>
</g>
<text x="733" y="1450" class="s12">O1</text><text x="797" y="1450" class="s12">O2</text><text x="882" y="1450" class="s12">O3</text>
<text x="767" y="1481" class="s14">型号 32</text>
</svg>
</body></html>
